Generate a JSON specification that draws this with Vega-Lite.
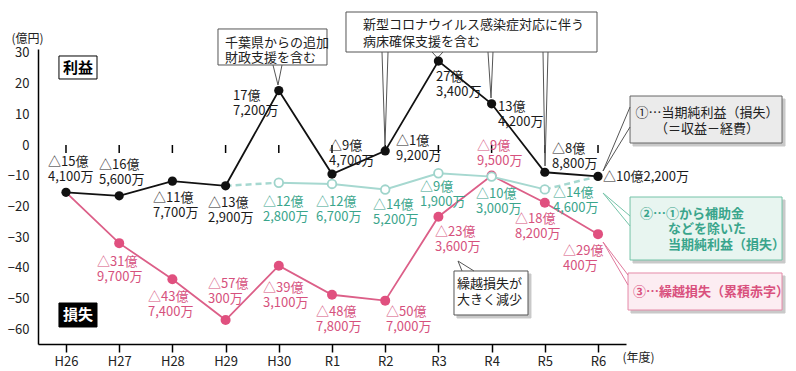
{
"$schema": "https://vega.github.io/schema/vega-lite/v6.json",
"width": 588, "height": 295,
"autosize": {"type": "none"},
"padding": {"left": 38, "top": 49, "right": 170, "bottom": 27},
"background": "white",
"config": {"view": {"stroke": null}, "font": "Noto Sans CJK JP", "text": {"font": "Noto Sans CJK JP", "fontSize": 13}},
"datasets": {
 "yt": [{"v":-60},{"v":-50},{"v":-40},{"v":-30},{"v":-20},{"v":-10},{"v":0},{"v":10},{"v":20},{"v":30}],
 "pts": [
  {"s":"net","i":0,"v":-15.41},{"s":"net","i":1,"v":-16.56},{"s":"net","i":2,"v":-11.77},{"s":"net","i":3,"v":-13.29},{"s":"net","i":4,"v":17.72},{"s":"net","i":5,"v":-9.47},{"s":"net","i":6,"v":-1.92},{"s":"net","i":7,"v":27.34},{"s":"net","i":8,"v":13.42},{"s":"net","i":9,"v":-8.88},{"s":"net","i":10,"v":-10.22},
  {"s":"adj","i":3,"v":-13.29},{"s":"adj","i":4,"v":-12.28},{"s":"adj","i":5,"v":-12.67},{"s":"adj","i":6,"v":-14.52},{"s":"adj","i":7,"v":-9.19},{"s":"adj","i":8,"v":-10.30},{"s":"adj","i":9,"v":-14.46},{"s":"adj","i":10,"v":-10.22},
  {"s":"loss","i":0,"v":-15.41},{"s":"loss","i":1,"v":-31.97},{"s":"loss","i":2,"v":-43.74},{"s":"loss","i":3,"v":-57.03},{"s":"loss","i":4,"v":-39.31},{"s":"loss","i":5,"v":-48.78},{"s":"loss","i":6,"v":-50.70},{"s":"loss","i":7,"v":-23.36},{"s":"loss","i":8,"v":-9.95},{"s":"loss","i":9,"v":-18.82},{"s":"loss","i":10,"v":-29.04}
 ],
 "labels": [
  {"s":"net","i":-0.338,"v":-5.54,"t1":"△15億","t2":"4,100万"},
  {"s":"net","i":0.620,"v":-6.51,"t1":"△16億","t2":"5,600万"},
  {"s":"net","i":1.635,"v":-17.26,"t1":"△11億","t2":"7,700万"},
  {"s":"net","i":2.669,"v":-18.89,"t1":"△13億","t2":"2,900万"},
  {"s":"net","i":3.139,"v":15.96,"t1":"17億","t2":"7,200万"},
  {"s":"net","i":4.944,"v":-0.33,"t1":"△9億","t2":"4,700万"},
  {"s":"net","i":6.203,"v":1.30,"t1":"△1億","t2":"9,200万"},
  {"s":"net","i":6.955,"v":22.15,"t1":"27億","t2":"3,400万"},
  {"s":"net","i":8.120,"v":12.38,"t1":"13億","t2":"4,200万"},
  {"s":"net","i":9.135,"v":-1.30,"t1":"△8億","t2":"8,800万"},
  {"s":"net","i":10.094,"v":-10.42,"t1":"△10億2,200万","t2":""},
  {"s":"loss","i":0.583,"v":-38.11,"t1":"△31億","t2":"9,700万"},
  {"s":"loss","i":1.541,"v":-49.51,"t1":"△43億","t2":"7,400万"},
  {"s":"loss","i":2.669,"v":-45.28,"t1":"△57億","t2":"300万"},
  {"s":"loss","i":3.703,"v":-46.58,"t1":"△39億","t2":"3,100万"},
  {"s":"loss","i":4.699,"v":-54.40,"t1":"△48億","t2":"7,800万"},
  {"s":"loss","i":6.015,"v":-54.40,"t1":"△50億","t2":"7,000万"},
  {"s":"loss","i":6.936,"v":-28.34,"t1":"△23億","t2":"3,600万"},
  {"s":"loss","i":7.726,"v":-0.33,"t1":"△9億","t2":"9,500万"},
  {"s":"loss","i":8.440,"v":-24.10,"t1":"△18億","t2":"8,200万"},
  {"s":"loss","i":9.342,"v":-34.53,"t1":"△29億","t2":"400万"},
  {"s":"adj","i":3.703,"v":-18.57,"t1":"△12億","t2":"2,800万"},
  {"s":"adj","i":4.699,"v":-18.57,"t1":"△12億","t2":"6,700万"},
  {"s":"adj","i":5.771,"v":-19.54,"t1":"△14億","t2":"5,200万"},
  {"s":"adj","i":6.654,"v":-13.68,"t1":"△9億","t2":"1,900万"},
  {"s":"adj","i":7.707,"v":-15.96,"t1":"△10億","t2":"3,000万"},
  {"s":"adj","i":9.154,"v":-15.64,"t1":"△14億","t2":"4,600万"}
 ],
 "boxes": [
  {"k":"sh","i":10.658,"i2":13.515,"v":14.98,"v2":-0.33},
  {"k":"sh","i":10.658,"i2":13.515,"v":-17.92,"v2":-38.44},
  {"k":"sh","i":10.62,"i2":13.515,"v":-42.67,"v2":-54.73},
  {"k":"sh","i":7.349,"i2":8.740,"v":-42.02,"v2":-56.35},
  {"k":"l1","i":10.602,"i2":13.459,"v":15.96,"v2":0.65},
  {"k":"l2","i":10.602,"i2":13.459,"v":-16.94,"v2":-37.46},
  {"k":"l3","i":10.564,"i2":13.459,"v":-41.69,"v2":-53.75},
  {"k":"wb","i":7.293,"i2":8.684,"v":-41.04,"v2":-55.37},
  {"k":"wb","i":2.857,"i2":4.906,"v":37.79,"v2":26.06},
  {"k":"wb","i":5.263,"i2":9.981,"v":43.32,"v2":30.29},
  {"k":"rk","i":-0.132,"i2":0.583,"v":28.99,"v2":21.50},
  {"k":"ss","i":-0.132,"i2":0.583,"v":-51.47,"v2":-59.28}
 ],
 "notes": [
  {"k":"b","i":0.226,"v":25.08,"txt":"利益"},
  {"k":"bw","i":0.226,"v":-55.37,"txt":"損失"},
  {"k":"n","i":2.989,"v":33.22,"txt":"千葉県からの追加"},
  {"k":"n","i":2.989,"v":28.34,"txt":"財政支援を含む"},
  {"k":"n","i":5.583,"v":39.09,"txt":"新型コロナウイルス感染症対応に伴う"},
  {"k":"n","i":5.583,"v":33.55,"txt":"病床確保支援を含む"},
  {"k":"n","i":7.35,"v":-45.28,"txt":"繰越損失が"},
  {"k":"n","i":7.35,"v":-50.49,"txt":"大きく減少"},
  {"k":"c","i":12.049,"v":10.42,"txt":"①…当期純利益（損失）"},
  {"k":"c","i":12.049,"v":5.21,"txt":"（＝収益－経費）"},
  {"k":"t","i":10.789,"v":-22.48,"txt":"②…①から補助金"},
  {"k":"t","i":11.316,"v":-27.36,"txt":"などを除いた"},
  {"k":"t","i":11.316,"v":-32.57,"txt":"当期純利益（損失）"},
  {"k":"p","i":10.658,"v":-47.88,"txt":"③…繰越損失（累積赤字）"}
 ],
 "ptr": [
  {"p":"chiba","k":"g","o":1,"i":3.891,"v":26.06},{"p":"chiba","k":"g","o":2,"i":3.985,"v":19.54},{"p":"chiba","k":"g","o":3,"i":4.060,"v":26.06},
  {"p":"c2","k":"g","o":1,"i":5.94,"v":30.29},{"p":"c2","k":"g","o":2,"i":5.996,"v":0.0},{"p":"c2","k":"g","o":3,"i":6.053,"v":30.29},
  {"p":"c3","k":"g","o":1,"i":6.880,"v":30.29},{"p":"c3","k":"g","o":2,"i":6.983,"v":28.34},{"p":"c3","k":"g","o":3,"i":7.086,"v":30.29},
  {"p":"c4","k":"g","o":1,"i":7.932,"v":30.29},{"p":"c4","k":"g","o":2,"i":7.989,"v":15.31},{"p":"c4","k":"g","o":3,"i":8.026,"v":30.29},
  {"p":"c5","k":"g","o":1,"i":8.966,"v":30.29},{"p":"c5","k":"g","o":2,"i":9.004,"v":-6.84},{"p":"c5","k":"g","o":3,"i":9.06,"v":30.29},
  {"p":"kr","k":"g","o":1,"i":7.444,"v":-41.04},{"p":"kr","k":"g","o":2,"i":7.368,"v":-37.79},{"p":"kr","k":"g","o":3,"i":7.669,"v":-41.04},
  {"p":"l1","k":"g","o":1,"i":10.602,"v":12.38},{"p":"l1","k":"g","o":2,"i":10.094,"v":-8.47},{"p":"l1","k":"g","o":3,"i":10.602,"v":5.86},
  {"p":"l2","k":"t","o":1,"i":10.602,"v":-23.13},{"p":"l2","k":"t","o":2,"i":10.094,"v":-15.64},{"p":"l2","k":"t","o":3,"i":10.602,"v":-26.38},
  {"p":"l3","k":"p","o":1,"i":10.564,"v":-42.35},{"p":"l3","k":"p","o":2,"i":10.094,"v":-31.60},{"p":"l3","k":"p","o":3,"i":10.564,"v":-45.6}
 ]
},
"encoding": {
 "x": {"field": "i", "type": "quantitative",
  "scale": {"domain": [-0.526, 10.526], "nice": false, "zero": false},
  "axis": {"values": [0,1,2,3,4,5,6,7,8,9,10],
   "labelExpr": "['H26','H27','H28','H29','H30','R1','R2','R3','R4','R5','R6'][round(datum.value)]",
   "grid": false, "domainColor": "#000", "domainWidth": 1.5, "tickColor": "#000", "tickWidth": 1.5, "tickSize": 8,
   "labelPadding": 3, "labelFontSize": 13, "labelColor": "#222", "labelFont": "Noto Sans CJK JP", "labelFlush": false, "labelOverlap": false,
   "title": "(年度)", "titleX": 600, "titleY": 13, "titleAlign": "center", "titleBaseline": "middle", "titleFontSize": 12, "titleFontWeight": "normal", "titleColor": "#222", "titleFont": "Noto Sans CJK JP"}},
 "y": {"field": "v", "type": "quantitative",
  "scale": {"domain": [-64.82, 31.27], "nice": false, "zero": false},
  "axis": {"values": [-60,-50,-40,-30,-20,-10,0,10,20,30],
   "grid": false, "domainColor": "#000", "domainWidth": 1.5, "ticks": false,
   "labelPadding": 9, "labelFontSize": 13, "labelColor": "#222", "labelFont": "Noto Sans CJK JP",
   "title": "(億円)", "titleAngle": 0, "titleX": -11, "titleY": -11, "titleAlign": "center", "titleBaseline": "middle", "titleFontSize": 12, "titleFontWeight": "normal", "titleColor": "#222", "titleFont": "Noto Sans CJK JP"}}
},
"layer": [
 {"data": {"name": "yt"}, "mark": {"type": "rule", "color": "#000", "strokeWidth": 1.5},
  "encoding": {"x": {"datum": -0.526}, "x2": {"datum": -0.244}}},
 {"data": {"name": "yt"}, "transform": [{"filter": "datum.v==0"}], "mark": {"type": "rule", "color": "#000", "strokeWidth": 1.5},
  "encoding": {"x": {"datum": -0.526}, "x2": {"datum": 10.526}}},
 {"data": {"name": "pts"}, "transform": [{"filter": "datum.s=='loss'"}], "mark": {"type": "rule", "color": "#000", "strokeWidth": 1.5},
  "encoding": {"y": {"datum": 0}, "y2": {"datum": -2.6}}},

 {"data": {"name": "boxes"}, "mark": {"type": "rect", "strokeWidth": 1},
  "encoding": {"x2": {"field": "i2"}, "y2": {"field": "v2"},
   "fill": {"field": "k", "type": "nominal", "legend": null, "scale": {"domain": ["sh","l1","l2","l3","wb","rk","ss"], "range": ["#c9c9c9","#ebebeb","#e8f5f0","#fcedf2","#ffffff","#ffffff","#000000"]}},
   "stroke": {"field": "k", "type": "nominal", "legend": null, "scale": {"domain": ["sh","l1","l2","l3","wb","rk","ss"], "range": ["#c9c9c9","#666666","#74c3a8","#e58aa8","#555555","#000000","#000000"]}}}},

 {"data": {"name": "ptr"}, "transform": [{"filter": "datum.k=='g'"}], "mark": {"type": "line", "stroke": "#555", "strokeWidth": 1},
  "encoding": {"detail": {"field": "p"}, "order": {"field": "o"}}},
 {"data": {"name": "ptr"}, "transform": [{"filter": "datum.k=='t'"}], "mark": {"type": "line", "stroke": "#74c3a8", "strokeWidth": 1},
  "encoding": {"detail": {"field": "p"}, "order": {"field": "o"}}},
 {"data": {"name": "ptr"}, "transform": [{"filter": "datum.k=='p'"}], "mark": {"type": "line", "stroke": "#e0789c", "strokeWidth": 1},
  "encoding": {"detail": {"field": "p"}, "order": {"field": "o"}}},

 {"data": {"name": "notes"}, "transform": [{"filter": "datum.k=='b'"}], "mark": {"type": "text", "fontSize": 15, "fontWeight": "bold", "color": "#000", "align": "center", "baseline": "middle"}, "encoding": {"text": {"field": "txt"}}},
 {"data": {"name": "notes"}, "transform": [{"filter": "datum.k=='bw'"}], "mark": {"type": "text", "fontSize": 15, "fontWeight": "bold", "color": "#fff", "align": "center", "baseline": "middle"}, "encoding": {"text": {"field": "txt"}}},
 {"data": {"name": "notes"}, "transform": [{"filter": "datum.k=='n'"}], "mark": {"type": "text", "fontSize": 13, "color": "#222", "align": "left", "baseline": "middle"}, "encoding": {"text": {"field": "txt"}}},
 {"data": {"name": "notes"}, "transform": [{"filter": "datum.k=='c'"}], "mark": {"type": "text", "fontSize": 13, "color": "#222", "align": "center", "baseline": "middle"}, "encoding": {"text": {"field": "txt"}}},
 {"data": {"name": "notes"}, "transform": [{"filter": "datum.k=='t'"}], "mark": {"type": "text", "fontSize": 13, "fontWeight": "bold", "color": "#3aa58c", "align": "left", "baseline": "middle"}, "encoding": {"text": {"field": "txt"}}},
 {"data": {"name": "notes"}, "transform": [{"filter": "datum.k=='p'"}], "mark": {"type": "text", "fontSize": 13, "fontWeight": "bold", "color": "#d9517e", "align": "left", "baseline": "middle"}, "encoding": {"text": {"field": "txt"}}},

 {"data": {"name": "pts"}, "transform": [{"filter": "datum.s=='loss'"}], "mark": {"type": "line", "color": "#dc5f88", "strokeWidth": 1.8}},
 {"data": {"name": "pts"}, "transform": [{"filter": "datum.s=='loss' && datum.i>=1"}], "mark": {"type": "point", "filled": true, "color": "#e0507f", "size": 100, "opacity": 1}},
 {"data": {"name": "pts"}, "transform": [{"filter": "datum.s=='adj' && datum.i<=4"}], "mark": {"type": "line", "color": "#a6d8d0", "strokeWidth": 2.5, "strokeDash": [6, 4]}},
 {"data": {"name": "pts"}, "transform": [{"filter": "datum.s=='adj' && datum.i>=9"}], "mark": {"type": "line", "color": "#a6d8d0", "strokeWidth": 2.5, "strokeDash": [6, 4]}},
 {"data": {"name": "pts"}, "transform": [{"filter": "datum.s=='adj' && datum.i>=4 && datum.i<=9"}], "mark": {"type": "line", "color": "#a6d8d0", "strokeWidth": 2}},
 {"data": {"name": "pts"}, "transform": [{"filter": "datum.s=='adj' && datum.i>=4 && datum.i<=9"}], "mark": {"type": "point", "filled": false, "fill": "#fff", "stroke": "#9fd4cb", "strokeWidth": 1.8, "size": 75, "opacity": 1}},
 {"data": {"name": "pts"}, "transform": [{"filter": "datum.s=='net'"}], "mark": {"type": "line", "color": "#111", "strokeWidth": 1.8}},
 {"data": {"name": "pts"}, "transform": [{"filter": "datum.s=='net'"}], "mark": {"type": "point", "filled": true, "color": "#111", "size": 85, "opacity": 1}},

 {"data": {"name": "labels"}, "mark": {"type": "text", "fontSize": 13, "align": "left", "baseline": "middle"},
  "encoding": {"text": {"field": "t1"}, "color": {"field": "s", "type": "nominal", "scale": {"domain": ["net", "adj", "loss"], "range": ["#1a1a1a", "#3aa58c", "#d6517d"]}, "legend": null}}},
 {"data": {"name": "labels"}, "mark": {"type": "text", "fontSize": 13, "align": "left", "baseline": "middle", "dy": 15},
  "encoding": {"text": {"field": "t2"}, "color": {"field": "s", "type": "nominal", "scale": {"domain": ["net", "adj", "loss"], "range": ["#1a1a1a", "#3aa58c", "#d6517d"]}, "legend": null}}}
]
}
